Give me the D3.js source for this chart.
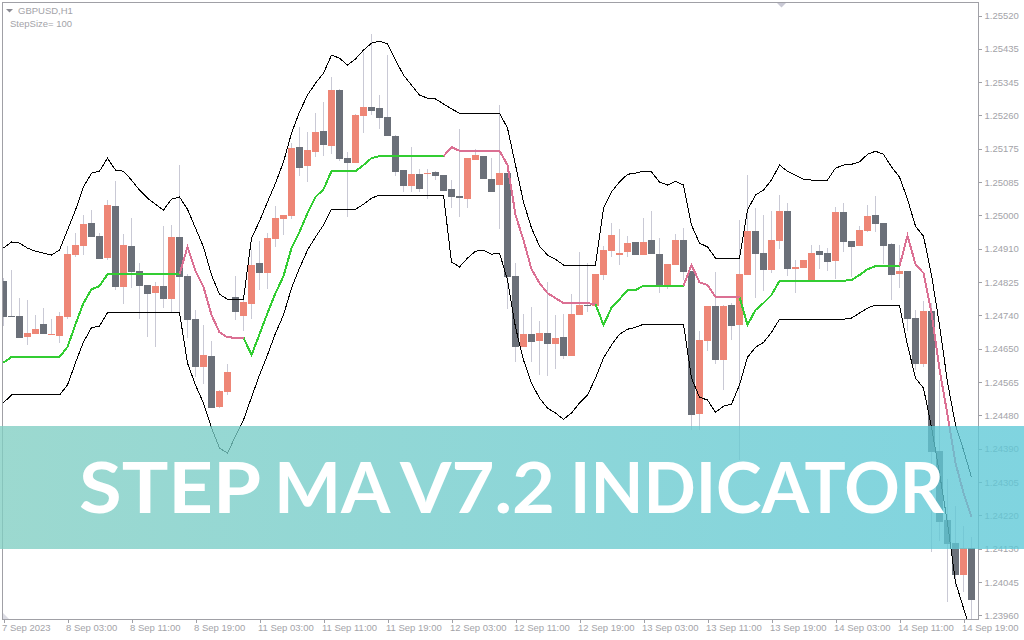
<!DOCTYPE html>
<html>
<head>
<meta charset="utf-8">
<style>
  html, body { margin: 0; padding: 0; background: #fff; }
  svg { display: block; }
  .axis text { font-family: "Liberation Sans", Arial, sans-serif; font-size: 9.5px; fill: #a3a3a8; }
</style>
<script src="https://cdn.jsdelivr.net/npm/d3@7"></script>
</head>
<body>
<script>
// GBPUSD H1 candles
var opens = [1.24829,1.24738,1.24738,1.24683,1.24691,1.24717,1.24689,1.24686,1.24735,1.24897,1.24920,1.24980,1.24946,1.24889,1.25024,1.24814,1.24920,1.24855,1.24819,1.24798,1.24816,1.24782,1.24944,1.24842,1.24730,1.24605,1.24634,1.24501,1.24540,1.24788,1.24738,1.24769,1.24876,1.24850,1.24938,1.24990,1.24998,1.25178,1.25128,1.25165,1.25219,1.25180,1.25326,1.25149,1.25136,1.25258,1.25282,1.25279,1.25256,1.25206,1.25118,1.25076,1.25107,1.25107,1.25113,1.25105,1.25068,1.25050,1.25042,1.25144,1.25154,1.25094,1.25079,1.25110,1.24842,1.24657,1.24691,1.24673,1.24694,1.24665,1.24683,1.24634,1.24741,1.24767,1.24764,1.24845,1.24907,1.24897,1.24905,1.24931,1.24897,1.24936,1.24899,1.24819,1.24871,1.24936,1.24855,1.24483,1.24673,1.24764,1.24624,1.24767,1.24715,1.24845,1.24959,1.24902,1.24858,1.24933,1.25011,1.24860,1.24863,1.24829,1.24907,1.24902,1.24881,1.25009,1.24933,1.24920,1.24959,1.25001,1.24980,1.24925,1.24847,1.24855,1.24733,1.24613,1.24751,1.24387,1.24207,1.24148,1.24064,1.24135];
var highs = [1.24837,1.24858,1.24785,1.24780,1.24741,1.24759,1.24730,1.24749,1.24920,1.24954,1.25001,1.25014,1.24954,1.25040,1.25089,1.24951,1.24993,1.24876,1.24819,1.24827,1.24972,1.24975,1.25131,1.24847,1.24754,1.24715,1.24673,1.24546,1.24613,1.24842,1.24788,1.24910,1.24933,1.24954,1.25024,1.25001,1.25188,1.25230,1.25217,1.25266,1.25295,1.25360,1.25329,1.25165,1.25263,1.25425,1.25472,1.25313,1.25417,1.25209,1.25118,1.25178,1.25120,1.25120,1.25115,1.25105,1.25092,1.25224,1.25149,1.25172,1.25154,1.25149,1.25287,1.25110,1.24876,1.24743,1.24762,1.24725,1.24827,1.24741,1.24743,1.24795,1.24905,1.24876,1.24847,1.24920,1.24980,1.24964,1.24946,1.24931,1.24993,1.25011,1.24941,1.24873,1.24951,1.24967,1.24855,1.24699,1.24764,1.24853,1.24767,1.24772,1.24988,1.25105,1.25019,1.25001,1.25011,1.25053,1.25032,1.24884,1.24884,1.24923,1.24923,1.24915,1.25022,1.25032,1.24933,1.24972,1.25027,1.25050,1.24980,1.24928,1.24923,1.24855,1.24754,1.24777,1.24772,1.24572,1.24314,1.24244,1.24192,1.24163];
var lows = [1.24712,1.24735,1.24681,1.24663,1.24691,1.24691,1.24689,1.24668,1.24730,1.24892,1.24897,1.24944,1.24886,1.24884,1.24806,1.24769,1.24811,1.24730,1.24683,1.24657,1.24759,1.24749,1.24749,1.24681,1.24579,1.24561,1.24499,1.24499,1.24533,1.24728,1.24699,1.24730,1.24806,1.24808,1.24918,1.24949,1.24990,1.25102,1.25087,1.25152,1.25154,1.25159,1.25141,1.24996,1.25136,1.25214,1.25261,1.25224,1.25206,1.25102,1.25061,1.25061,1.25061,1.25042,1.25092,1.25063,1.25019,1.24996,1.25019,1.25144,1.25094,1.25061,1.24964,1.24756,1.24618,1.24657,1.24618,1.24585,1.24582,1.24600,1.24626,1.24634,1.24741,1.24749,1.24764,1.24832,1.24892,1.24871,1.24892,1.24897,1.24897,1.24899,1.24798,1.24808,1.24871,1.24832,1.24442,1.24442,1.24647,1.24613,1.24546,1.24676,1.24364,1.24845,1.24785,1.24803,1.24850,1.24912,1.24842,1.24798,1.24863,1.24829,1.24860,1.24855,1.24834,1.24905,1.24840,1.24920,1.24957,1.24957,1.24873,1.24780,1.24811,1.24699,1.24598,1.24605,1.24124,1.24153,1.23994,1.24033,1.24020,1.23950];
var closes = [1.24735,1.24735,1.24681,1.24694,1.24704,1.24691,1.24691,1.24738,1.24899,1.24923,1.24977,1.24944,1.24886,1.25027,1.24814,1.24923,1.24853,1.24816,1.24795,1.24816,1.24782,1.24944,1.24840,1.24728,1.24605,1.24637,1.24499,1.24543,1.24592,1.24749,1.24775,1.24871,1.24850,1.24941,1.24993,1.25001,1.25175,1.25123,1.25170,1.25217,1.25183,1.25326,1.25146,1.25136,1.25261,1.25282,1.25271,1.25253,1.25206,1.25113,1.25076,1.25107,1.25068,1.25110,1.25102,1.25063,1.25048,1.25045,1.25149,1.25157,1.25094,1.25061,1.25110,1.24840,1.24657,1.24691,1.24670,1.24694,1.24665,1.24681,1.24634,1.24743,1.24767,1.24764,1.24847,1.24910,1.24949,1.24902,1.24928,1.24897,1.24931,1.24899,1.24819,1.24873,1.24936,1.24853,1.24481,1.24676,1.24764,1.24624,1.24764,1.24712,1.24847,1.24959,1.24899,1.24858,1.24936,1.25011,1.24860,1.24866,1.24884,1.24902,1.24897,1.24879,1.25009,1.24931,1.24918,1.24962,1.24998,1.24977,1.24920,1.24845,1.24855,1.24730,1.24613,1.24751,1.24384,1.24202,1.24145,1.24064,1.24135,1.23999];

// Step MA line and its two bands
var stepLine = [1.24617,1.24632,1.24632,1.24632,1.24632,1.24632,1.24632,1.24632,1.24658,1.24717,1.24772,1.24808,1.24816,1.24847,1.24847,1.24847,1.24847,1.24847,1.24847,1.24847,1.24847,1.24847,1.24847,1.24918,1.24856,1.24814,1.24741,1.24696,1.24683,1.24682,1.24682,1.24637,1.24691,1.24746,1.24798,1.24842,1.24915,1.24957,1.25006,1.25048,1.25068,1.25115,1.25115,1.25115,1.25115,1.25131,1.25149,1.25154,1.25154,1.25154,1.25154,1.25154,1.25154,1.25154,1.25154,1.25154,1.25178,1.25168,1.25168,1.25168,1.25168,1.25168,1.25168,1.25131,1.25001,1.24936,1.24860,1.24824,1.24798,1.24785,1.24772,1.24772,1.24772,1.24772,1.24769,1.24715,1.24760,1.24782,1.24806,1.24806,1.24817,1.24817,1.24817,1.24817,1.24817,1.24817,1.24871,1.24826,1.24819,1.24788,1.24788,1.24788,1.24788,1.24715,1.24754,1.24772,1.24793,1.24830,1.24830,1.24830,1.24830,1.24830,1.24830,1.24830,1.24830,1.24830,1.24832,1.24845,1.24860,1.24868,1.24868,1.24868,1.24868,1.24947,1.24873,1.24850,1.24746,1.24600,1.24481,1.24356,1.24278,1.24215];
var upperBand = [1.24915,1.24931,1.24928,1.24915,1.24907,1.24902,1.24897,1.24910,1.24962,1.25014,1.25074,1.25110,1.25115,1.25149,1.25118,1.25115,1.25092,1.25066,1.25045,1.25029,1.25014,1.25042,1.25048,1.25016,1.24967,1.24918,1.24845,1.24795,1.24782,1.24782,1.24782,1.24941,1.24985,1.25035,1.25084,1.25139,1.25214,1.25269,1.25313,1.25344,1.25370,1.25417,1.25409,1.25391,1.25407,1.25430,1.25448,1.25453,1.25446,1.25404,1.25365,1.25339,1.25313,1.25305,1.25303,1.25290,1.25277,1.25266,1.25266,1.25266,1.25266,1.25266,1.25266,1.25227,1.25131,1.25035,1.24967,1.24920,1.24897,1.24886,1.24871,1.24871,1.24871,1.24871,1.24871,1.25019,1.25061,1.25087,1.25107,1.25110,1.25115,1.25113,1.25087,1.25079,1.25089,1.25079,1.24975,1.24928,1.24918,1.24889,1.24889,1.24889,1.24889,1.25014,1.25053,1.25066,1.25092,1.25131,1.25115,1.25105,1.25094,1.25092,1.25092,1.25092,1.25123,1.25131,1.25133,1.25139,1.25159,1.25167,1.25159,1.25126,1.25100,1.25042,1.24972,1.24946,1.24845,1.24715,1.24566,1.24455,1.24390,1.24319];
var lowerBand = [1.24513,1.24533,1.24533,1.24533,1.24533,1.24533,1.24533,1.24533,1.24559,1.24617,1.24671,1.24708,1.24712,1.24747,1.24747,1.24747,1.24747,1.24747,1.24747,1.24747,1.24747,1.24747,1.24747,1.24616,1.24559,1.24512,1.24447,1.24395,1.24382,1.24426,1.24468,1.24527,1.24585,1.24637,1.24694,1.24741,1.24811,1.24863,1.24910,1.24944,1.24975,1.25016,1.25016,1.25016,1.25016,1.25029,1.25045,1.25053,1.25053,1.25053,1.25053,1.25053,1.25053,1.25053,1.25053,1.25053,1.24879,1.24866,1.24889,1.24907,1.24910,1.24899,1.24902,1.24832,1.24709,1.24624,1.24564,1.24525,1.24499,1.24486,1.24470,1.24486,1.24512,1.24533,1.24577,1.24629,1.24663,1.24691,1.24704,1.24709,1.24717,1.24717,1.24717,1.24717,1.24717,1.24717,1.24577,1.24527,1.24520,1.24488,1.24504,1.24509,1.24559,1.24631,1.24657,1.24670,1.24696,1.24730,1.24730,1.24730,1.24730,1.24730,1.24730,1.24730,1.24730,1.24730,1.24733,1.24746,1.24759,1.24767,1.24767,1.24767,1.24767,1.24663,1.24577,1.24551,1.24449,1.24330,1.24200,1.24046,1.23979,1.23914];
// bar ranges of the step line: green while rising, pink while falling
var risingRuns = [[0, 22], [30, 55], [74, 85], [92, 112]];
var fallingRuns = [[22, 30], [55, 74], [85, 92], [112, 121]];

var priceTicks = ["1.25520","1.25435","1.25345","1.25260","1.25175","1.25085","1.25000","1.24910","1.24825","1.24740","1.24650","1.24565","1.24480","1.24390","1.24305","1.24220","1.24130","1.24045","1.23960"];
var timeTicks = ["7 Sep 2023","8 Sep 03:00","8 Sep 11:00","8 Sep 19:00","11 Sep 03:00","11 Sep 11:00","11 Sep 19:00","12 Sep 03:00","12 Sep 11:00","12 Sep 19:00","13 Sep 03:00","13 Sep 11:00","13 Sep 19:00","14 Sep 03:00","14 Sep 11:00","14 Sep 19:00"];
var chartTitle = "GBPUSD,H1";
var paramLabel = "StepSize= 100";
var bannerWords = ["STEP", "MA", "V7.2", "INDICATOR"];

var svgWidth = 1024, svgHeight = 640;
var left = 2.5, top_ = 2.5, right = 978.5, bottom = 619.5;
var bars = d3.range(opens.length);

var xScale = d3.scalePoint().domain(bars).range([3.5, 3.5 + 8 * (bars.length - 1)]);
var yScale = d3.scaleLinear().domain([1.23960, 1.25520]).range([615.3, 15.5]);
var yAxisScale = d3.scalePoint().domain(priceTicks).range([15.5, 615.3]);

var svg = d3.select("body").append("svg").attr("width", svgWidth).attr("height", svgHeight);
var defs = svg.append("defs");

defs.append("clipPath").attr("id", "plot").append("rect")
    .attr("x", left).attr("y", top_).attr("width", right - left).attr("height", bottom - top_);

var grad = defs.append("linearGradient").attr("id", "bannerFill");
grad.append("stop").attr("offset", "0%").attr("stop-color", "rgb(128,206,194)");
grad.append("stop").attr("offset", "100%").attr("stop-color", "rgb(92,200,215)");

var plot = svg.append("g").attr("clip-path", "url(#plot)");

// Wicks then bodies
plot.selectAll(".wick").data(bars).enter().append("line")
    .attr("class", "wick")
    .attr("x1", function(i) { return xScale(i); })
    .attr("x2", function(i) { return xScale(i); })
    .attr("y1", function(i) { return yScale(highs[i]); })
    .attr("y2", function(i) { return yScale(lows[i]); })
    .attr("stroke", "#c9c9d5").attr("shape-rendering", "crispEdges");

plot.selectAll(".body").data(bars).enter().append("rect")
    .attr("class", "body")
    .attr("x", function(i) { return xScale(i) - 3.5; })
    .attr("width", 7)
    .attr("y", function(i) { return yScale(Math.max(opens[i], closes[i])); })
    .attr("height", function(i) { return Math.max(1, Math.abs(yScale(opens[i]) - yScale(closes[i]))); })
    .attr("fill", function(i) { return closes[i] >= opens[i] ? "#ee8676" : "#6b7079"; })
    .attr("shape-rendering", "crispEdges");

// Bands and step line
function lineOf(values) {
    return d3.line()
        .x(function(i) { return xScale(i); })
        .y(function(i) { return yScale(values[i]); });
}

[upperBand, lowerBand].forEach(function(values) {
    plot.append("path").datum(bars)
        .attr("d", lineOf(values))
        .attr("fill", "none").attr("stroke", "#000").attr("stroke-width", 1)
        .attr("shape-rendering", "crispEdges");
});

function drawRuns(runs, color) {
    runs.forEach(function(run) {
        plot.append("path").datum(d3.range(run[0], run[1] + 1))
            .attr("d", lineOf(stepLine))
            .attr("fill", "none").attr("stroke", color).attr("stroke-width", 2)
            .attr("shape-rendering", "crispEdges");
    });
}
drawRuns(risingRuns, "#32cd32");
drawRuns(fallingRuns, "#db7093");

// Frame and axes
svg.append("rect")
    .attr("x", left).attr("y", top_).attr("width", right - left).attr("height", bottom - top_)
    .attr("fill", "none").attr("stroke", "#a0a0a6").attr("shape-rendering", "crispEdges");

var yAxis = svg.append("g").attr("class", "axis")
    .attr("transform", "translate(" + right + ",0)")
    .call(d3.axisRight(yAxisScale).tickSize(3).tickPadding(3));
yAxis.select(".domain").remove();
yAxis.selectAll("line").attr("stroke", "#a0a0a6").attr("shape-rendering", "crispEdges");

var timeBars = bars.filter(function(i) { return i % 8 === 0; });
var xAxis = svg.append("g").attr("class", "axis")
    .attr("transform", "translate(0," + bottom + ")")
    .call(d3.axisBottom(xScale).tickValues(timeBars).tickSize(3)
        .tickFormat(function(i) { return timeTicks[i / 8]; }));
xAxis.select(".domain").remove();
xAxis.selectAll("line").attr("stroke", "#a0a0a6").attr("shape-rendering", "crispEdges");
xAxis.selectAll("text").attr("text-anchor", "start").attr("x", -2).attr("y", 5);

// Chart caption
svg.append("path").attr("d", "M6,9H13L9.5,12.5Z").attr("fill", "#8a8a92");
svg.append("text").attr("x", 18).attr("y", 13.5).text(chartTitle)
    .attr("font-family", "Liberation Sans").attr("font-size", 9.5).attr("fill", "#a3a3a8");
svg.append("text").attr("x", 10).attr("y", 26.5).text(paramLabel)
    .attr("font-family", "Liberation Sans").attr("font-size", 9.5).attr("fill", "#a3a3a8");

// Small shift markers
svg.append("path").attr("d", "M777,3H786L781.5,7.5Z").attr("fill", "#c9c9d5");
svg.append("path").attr("d", "M3,613L9,619H3Z").attr("fill", "#dcdce4");

// Banner over the chart
svg.append("rect")
    .attr("x", 0).attr("y", 426).attr("width", svgWidth).attr("height", 123)
    .attr("fill", "url(#bannerFill)").attr("opacity", 0.78);

// each word is fitted to its span in the picture
var wordSpans = [[79, 180], [274, 114], [400, 155], [570, 374]];
var banner = svg.append("text")
    .attr("y", 513)
    .attr("font-family", "Lato").attr("font-weight", 700).attr("font-size", 70)
    .attr("fill", "#fff");
bannerWords.forEach(function(word, i) {
    if (i > 0) banner.append(function() { return document.createTextNode(" "); });
    banner.append("tspan")
        .attr("x", wordSpans[i][0])
        .attr("textLength", wordSpans[i][1]).attr("lengthAdjust", "spacingAndGlyphs")
        .text(word);
});
</script>
</body>
</html>
